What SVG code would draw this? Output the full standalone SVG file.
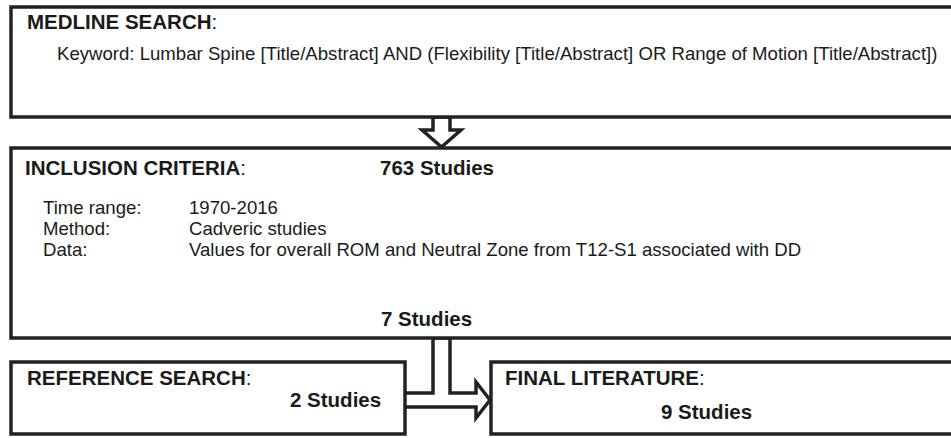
<svg xmlns="http://www.w3.org/2000/svg" width="951" height="438" viewBox="0 0 951 438">
  <style>
    .box { fill: #ffffff; stroke: #222222; stroke-width: 3.5; }
    .arrow { fill: #ffffff; stroke: #222222; stroke-width: 3.5; stroke-linejoin: miter; }
    text { font-family: "Liberation Sans", Arial, sans-serif; fill: #1a1a1a; }
    .h { font-size: 20.5px; font-weight: bold; }
    .t { font-size: 18.6px; }
    .c { font-weight: normal; }
  </style>
  <rect width="951" height="438" fill="#ffffff"/>

  <g id="connectors">
    <!-- block arrow: search results down to inclusion criteria -->
    <path class="arrow" d="M433,117 L450,117 L450,130 L461,130 L441.5,147 L422,130 L433,130 Z"/>
    <!-- merged T-shaped block arrow into the final literature box -->
    <path class="arrow" d="M405,393 L433,393 L433,338 L450,338 L450,393 L476,393 L476,382 L490,400 L476,418 L476,407 L405,407"/>
  </g>

  <g id="medline">
    <rect class="box" x="11" y="7" width="960" height="110"/>
    <text class="h" x="27" y="29">MEDLINE SEARCH<tspan class="c">:</tspan></text>
    <text class="t" x="57" y="60">Keyword: Lumbar Spine [Title/Abstract] AND (Flexibility [Title/Abstract] OR Range of Motion [Title/Abstract])</text>
  </g>

  <g id="inclusion">
    <rect class="box" x="11" y="148" width="960" height="190"/>
    <text class="h" x="25" y="175">INCLUSION CRITERIA<tspan class="c">:</tspan></text>
    <text class="h" x="380" y="175">763 Studies</text>
    <text class="t" x="43" y="214">Time range:</text>
    <text class="t" x="189" y="214">1970-2016</text>
    <text class="t" x="43" y="235">Method:</text>
    <text class="t" x="189" y="235">Cadveric studies</text>
    <text class="t" x="43" y="256">Data:</text>
    <text class="t" x="189" y="256">Values for overall ROM and Neutral Zone from T12-S1 associated with DD</text>
    <text class="h" x="381" y="326">7 Studies</text>
  </g>

  <g id="reference">
    <rect class="box" x="11" y="362" width="394" height="72"/>
    <text class="h" x="27" y="385">REFERENCE SEARCH<tspan class="c">:</tspan></text>
    <text class="h" x="290" y="407">2 Studies</text>
  </g>

  <g id="final">
    <rect class="box" x="491" y="362" width="480" height="72"/>
    <text class="h" x="505" y="385">FINAL LITERATURE<tspan class="c">:</tspan></text>
    <text class="h" x="661" y="419">9 Studies</text>
  </g>
</svg>
